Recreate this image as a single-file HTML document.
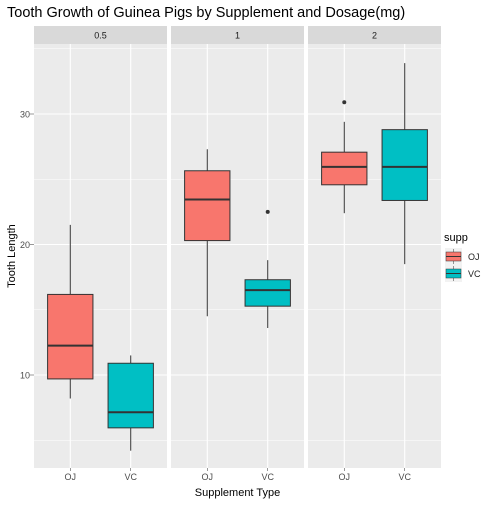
<!DOCTYPE html>
<html><head><meta charset="utf-8"><style>body{margin:0;background:#fff}svg{font-family:"Liberation Sans",Arial,sans-serif}</style></head>
<body>
<svg id="chart" width="504" height="504" viewBox="0 0 504 504">
<rect width="504" height="504" fill="#fff"/>
<text x="7" y="17" font-size="14.5" fill="#000">Tooth Growth of Guinea Pigs by Supplement and Dosage(mg)</text>
<g id="panels"></g>
<text x="237.5" y="496" font-size="11" text-anchor="middle">Supplement Type</text>
<text transform="translate(15,256) rotate(-90)" font-size="11" text-anchor="middle">Tooth Length</text>
<g>
<text x="444" y="241" font-size="11">supp</text>
<g>
<rect x="445" y="248" width="17" height="17" fill="#F2F2F2"/>
<line x1="453.5" y1="249" x2="453.5" y2="264" stroke="#333" stroke-width="0.5"/>
<rect x="446" y="252" width="15" height="9" fill="#F8766D" stroke="#333" stroke-width="0.5"/>
<line x1="446" y1="256.5" x2="461" y2="256.5" stroke="#333" stroke-width="1"/>
<text x="468" y="260" font-size="9" fill="#222">OJ</text></g>
<g>
<rect x="445" y="265" width="17" height="17" fill="#F2F2F2"/>
<line x1="453.5" y1="266" x2="453.5" y2="281" stroke="#333" stroke-width="0.5"/>
<rect x="446" y="269" width="15" height="9" fill="#00BFC4" stroke="#333" stroke-width="0.5"/>
<line x1="446" y1="273.5" x2="461" y2="273.5" stroke="#333" stroke-width="1"/>
<text x="468" y="277" font-size="9" fill="#222">VC</text></g>
</g>
</svg>
<script>
const doses=["0.5","1","2"];
const supps=["OJ","VC"];
const yTicks=[10,20,30];
const minorTicks=[5,15,25,35];
const whiskLo=[[8.2,4.2],[14.5,13.6],[22.4,18.5]];
const q1=[[9.7,5.95],[20.3,15.275],[24.575,23.375]];
const med=[[12.25,7.15],[23.45,16.5],[25.95,25.95]];
const q3=[[16.175,10.9],[25.65,17.3],[27.075,28.8]];
const whiskHi=[[21.5,11.5],[27.3,18.8],[29.4,33.9]];
const outliers=[[[],[]],[[],[22.5]],[[30.9],[]]];
const colors=["#F8766D","#00BFC4"];
const NS="http://www.w3.org/2000/svg";
const pTop=44,pBot=468;
function y(v){return 114+(30-v)*13.05;}
const panelX=[34,171,308],pW=133;
function x(p,i){return panelX[p]+(i+0.6)/2.2*pW;}
function mk(tag,a,parent){const e=document.createElementNS(NS,tag);for(const k in a)e.setAttribute(k,a[k]);parent.appendChild(e);return e;}
const g=document.getElementById('panels');
const svg=document.getElementById('chart');
yTicks.forEach(t=>{
 const tl=mk('text',{x:30,y:y(t)+3.5,'font-size':9,fill:'#4D4D4D','text-anchor':'end'},svg);tl.textContent=t;
 
 
 mk('line',{x1:30,x2:34,y1:y(t),y2:y(t),stroke:'#333','stroke-width':0.5},svg);
});
doses.forEach((d,p)=>{
 const pg=mk('g',{},g);
 
 
 mk('rect',{x:panelX[p],y:pTop,width:pW,height:pBot-pTop,fill:'#EBEBEB'},pg);
 mk('rect',{x:panelX[p],y:26,width:pW,height:18,fill:'#D9D9D9'},pg);
 const st=mk('text',{x:panelX[p]+pW/2,y:38.5,'font-size':9,fill:'#1A1A1A','text-anchor':'middle'},pg);st.textContent=d;
 
 
 minorTicks.forEach(t=>{if(y(t)>pTop&&y(t)<pBot)mk('line',{x1:panelX[p],x2:panelX[p]+pW,y1:y(t),y2:y(t),stroke:'#fff','stroke-width':0.5},pg);});
 yTicks.forEach(t=>mk('line',{x1:panelX[p],x2:panelX[p]+pW,y1:y(t),y2:y(t),stroke:'#fff','stroke-width':1.1},pg));
 supps.forEach((s,i)=>mk('line',{x1:x(p,i),x2:x(p,i),y1:pTop,y2:pBot,stroke:'#fff','stroke-width':1.1},pg));
 supps.forEach((s,i)=>{
  const cx=x(p,i),hw=0.75/2/2.2*pW;
  const b=mk('g',{},pg);
  
  
  mk('line',{x1:cx,x2:cx,y1:y(whiskLo[p][i]),y2:y(whiskHi[p][i]),stroke:'#333','stroke-width':1},b);
  mk('rect',{x:cx-hw,y:y(q3[p][i]),width:2*hw,height:y(q1[p][i])-y(q3[p][i]),fill:colors[i],stroke:'#333','stroke-width':1},b);
  mk('line',{x1:cx-hw,x2:cx+hw,y1:y(med[p][i]),y2:y(med[p][i]),stroke:'#333','stroke-width':2},b);
  outliers[p][i].forEach(o=>mk('circle',{cx:cx,cy:y(o),r:2,fill:'#333'},b));
  mk('line',{x1:cx,x2:cx,y1:pBot,y2:pBot+3,stroke:'#333','stroke-width':0.5},pg);
  const xl=mk('text',{x:cx,y:pBot+12,'font-size':9,fill:'#4D4D4D','text-anchor':'middle'},pg);xl.textContent=s;
  
  
 });
});
</script>
</body></html>
